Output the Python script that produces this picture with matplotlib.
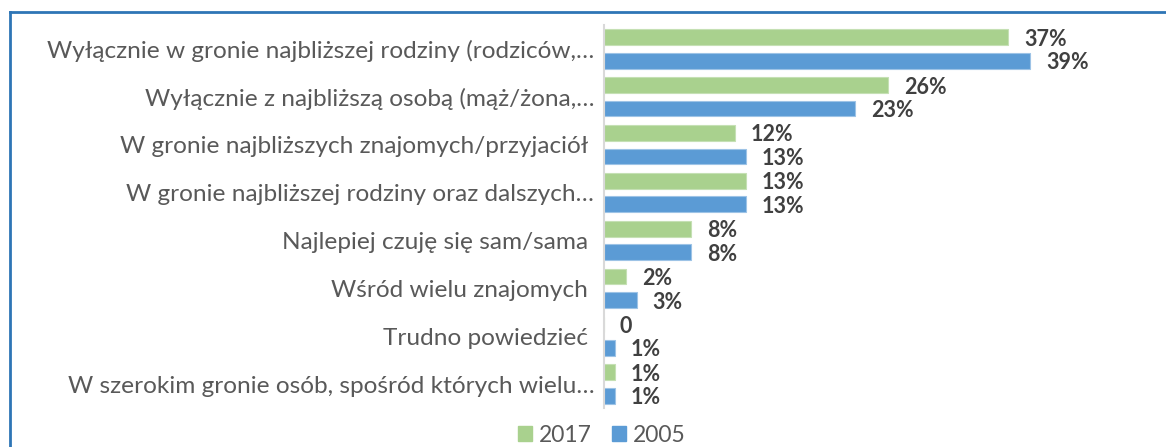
import matplotlib
matplotlib.use("Agg")
import matplotlib.pyplot as plt
from matplotlib.patches import Rectangle
from matplotlib.lines import Line2D

categories = [
    "Wyłącznie w gronie najbliższej rodziny (rodziców,…",
    "Wyłącznie z najbliższą osobą (mąż/żona,…",
    "W gronie najbliższych znajomych/przyjaciół ",
    "W gronie najbliższej rodziny oraz dalszych…",
    "Najlepiej czuję się sam/sama ",
    "Wśród wielu znajomych ",
    "Trudno powiedzieć ",
    "W szerokim gronie osób, spośród których wielu…",
]
values_2017 = [37, 26, 12, 13, 8, 2, 0, 1]
values_2005 = [39, 23, 13, 13, 8, 3, 1, 1]
labels_2017 = ["37%", "26%", "12%", "13%", "8%", "2%", "0", "1%"]
labels_2005 = ["39%", "23%", "13%", "13%", "8%", "3%", "1%", "1%"]
series_names = ["2017", "2005"]

GREEN = "#A9D18E"
BLUE = "#5B9BD5"
TXT = "#595959"
VAL = "#404040"
FONT = ["Lato", "DejaVu Sans"]

W, H = 1166, 447
fig = plt.figure(figsize=(W / 100, H / 100), dpi=100)

# border (top and left visible)
fig.add_artist(Line2D([9.5 / W, 9.5 / W], [0, 1 - 12 / H], color="#2E75B6", lw=2, transform=fig.transFigure))
fig.add_artist(Line2D([9.5 / W, 1], [1 - 12 / H, 1 - 12 / H], color="#2E75B6", lw=2, transform=fig.transFigure))

ax_left, ax_right = 604, 1150
ax_top, ax_bot = 25, 408
ax = fig.add_axes([ax_left / W, 1 - ax_bot / H, (ax_right - ax_left) / W, (ax_bot - ax_top) / H])

y = list(range(len(categories)))
bh = 0.33
off = 0.245
ax.barh([v - off for v in y], values_2017, height=bh, color=GREEN, edgecolor="#C5E0B4", linewidth=0.8)
ax.barh([v + off for v in y], values_2005, height=bh, color=BLUE, edgecolor="#9DC3E6", linewidth=0.8)

ax.set_xlim(0, 50)
ax.set_ylim(len(categories) - 0.5, -0.5)
ax.set_yticks(y)
ax.set_yticklabels(categories, fontsize=17.6, color=TXT, family=FONT)
ax.tick_params(axis="y", length=0, pad=7)
ax.set_xticks([])
for s in ["top", "right", "bottom"]:
    ax.spines[s].set_visible(False)
ax.spines["left"].set_color("#D9D9D9")
ax.spines["left"].set_linewidth(1.5)

for i in y:
    ax.annotate(labels_2017[i], (values_2017[i], i - off), xytext=(16, -2), textcoords="offset pixels",
                va="center", ha="left", fontsize=15.5, fontweight="bold", color=VAL, family=FONT)
    ax.annotate(labels_2005[i], (values_2005[i], i + off), xytext=(16, -2), textcoords="offset pixels",
                va="center", ha="left", fontsize=15.5, fontweight="bold", color=VAL, family=FONT)

handles = [Rectangle((0, 0), 1, 1, color=GREEN), Rectangle((0, 0), 1, 1, color=BLUE)]
fig.legend(handles, series_names, loc="center", bbox_to_anchor=(602 / W, 1 - 435 / H), ncol=2,
           frameon=False, prop={"family": FONT, "size": 16.5}, labelcolor=TXT,
           handlelength=0.6, handleheight=0.6, handletextpad=0.3, columnspacing=0.9,
           borderaxespad=0, borderpad=0)

fig.savefig("out.png", dpi=100)
